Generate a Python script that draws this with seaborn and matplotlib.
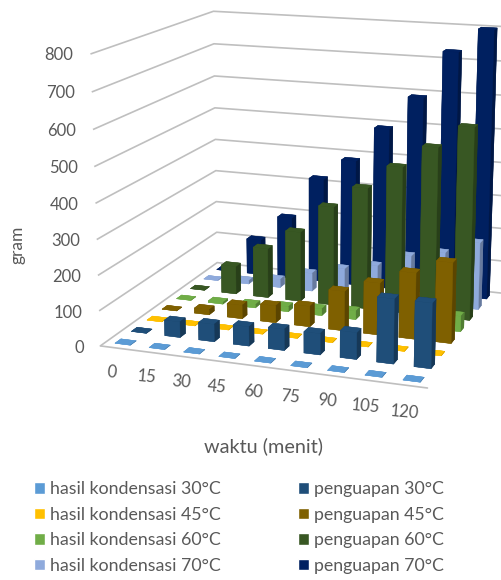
import numpy as np, matplotlib
matplotlib.use("Agg")
import matplotlib.pyplot as plt
import seaborn as sns
from matplotlib.patches import Patch
from mpl_toolkits.mplot3d import proj3d
import matplotlib.colors as mc

sns.set_theme(style="white")
plt.rcParams['font.family'] = ['Lato', 'DejaVu Sans']

waktu = [0, 15, 30, 45, 60, 75, 90, 105, 120]
gram_ticks = [0, 100, 200, 300, 400, 500, 600, 700, 800]
hasil30 = [0, 0, 0, 0, 0, 0, 0, 0, 0]
penguapan30 = [0, 45, 50, 55, 60, 60, 75, 180, 180]
hasil45 = [0, 0, 0, 0, 0, 0, 0, 0, 0]
penguapan45 = [0, 15, 40, 50, 60, 115, 150, 190, 230]
hasil60 = [0, 5, 10, 15, 20, 25, 30, 35, 45]
penguapan60 = [0, 85, 150, 210, 295, 360, 430, 495, 560]
hasil70 = [0, 10, 25, 55, 80, 100, 140, 160, 200]
penguapan70 = [0, 110, 190, 320, 385, 490, 590, 730, 800]
series = [
    ("hasil kondensasi 30°C", hasil30, "#5B9BD5"),
    ("penguapan 30°C", penguapan30, "#1F4E79"),
    ("hasil kondensasi 45°C", hasil45, "#FFC000"),
    ("penguapan 45°C", penguapan45, "#7F6000"),
    ("hasil kondensasi 60°C", hasil60, "#70AD47"),
    ("penguapan 60°C", penguapan60, "#385723"),
    ("hasil kondensasi 70°C", hasil70, "#8FAADC"),
    ("penguapan 70°C", penguapan70, "#002060"),
]
W, H = 501, 580
fig = plt.figure(figsize=(W/100, H/100), dpi=100)
ax = fig.add_axes([0, 0, 1, 1], projection="3d")
ax.set_xlim(0, 9); ax.set_ylim(0, 8); ax.set_zlim(0, 800)

# fit the camera to the corners of the reference's 3D box
corners3 = np.array([[0,0,0],[9,0,0],[0,8,0],[0,8,800],[0,0,800],[9,8,0],[9,8,800]],float)
corners2 = np.array([[100.7,345],[428,389],[216.7,262.7],[214,11],[90,54],[505,293],[505,27]],float)
def fit(p):
    e, a, f, bx, by = p
    ax.view_init(elev=e, azim=a)
    ax.set_proj_type('persp', focal_length=f)
    ax.set_box_aspect((bx, by, 1))
    X, Y, _ = proj3d.proj_transform(corners3[:,0], corners3[:,1], corners3[:,2], ax.get_proj())
    X = np.asarray(X); Y = np.asarray(Y)
    mx, my, px, py = X.mean(), Y.mean(), corners2[:,0].mean(), corners2[:,1].mean()
    s = (((X-mx)*(corners2[:,0]-px)).sum() - ((Y-my)*(corners2[:,1]-py)).sum())/(((X-mx)**2).sum()+((Y-my)**2).sum())
    tx = px - s*mx; ty = py + s*my
    return ((s*X+tx-corners2[:,0])**2+(ty-s*Y-corners2[:,1])**2).sum(), s, tx, ty
rng = np.random.default_rng(1)
best = np.array([14.132, -71.025, 0.538, 1.129, 1.016]); be = fit(best)
step = np.array([1.5, 2.5, .08, .08, .08])
N = 4000
for i in range(N):
    c = best + rng.normal(size=5)*step*(0.3+0.7*(1-i/N))**3
    if c[2] <= 0.05 or c[3] <= 0.1 or c[4] <= 0.1:
        continue
    r = fit(c)
    if r[0] < be[0]:
        best, be = c, r
_, s, tx, ty = fit(best)
ext = ax.viewLim.extents
L = s*(ext[2]-ext[0])
cx = tx + s*(ext[0]+ext[2])/2
cy = ty - s*(ext[1]+ext[3])/2
ax.set_position([(cx-L/2)/W, (H-cy-L/2)/H, L/W, L/H])

ax.set_facecolor("none"); fig.patch.set_facecolor("white")
ax.computed_zorder = False
bw, bd = 0.45, 0.36
for r,(name,vals,col) in enumerate(series):
    base = np.array(mc.to_rgb(col))
    for c,v in enumerate(vals):
        cols = [tuple(base), tuple(base), tuple(base), tuple(base*0.8), tuple(base*0.8), tuple(base*0.72)]
        ax.bar3d(c+0.5-bw/2, r+0.5-bd/2, 0, bw, bd, v, color=cols, edgecolor=cols, linewidth=0.3,
                 shade=False, zorder=10+(8-r)*100+c)
grey = "#595959"
ax.set_xticks(np.arange(9)+0.5); ax.set_xticklabels(waktu)
ax.set_yticks([])
ax.set_zticks(gram_ticks)
ax.set_zticklabels(gram_ticks, va='center', ha='right')
ax.zaxis.set_ticks_position('lower')
ax.tick_params(axis='x', labelsize=12, colors=grey, pad=0, labelrotation=-5)
ax.tick_params(axis='z', labelsize=12, colors=grey, pad=-1)
for a in (ax.xaxis, ax.yaxis, ax.zaxis):
    a.set_pane_color((1,1,1,0))
    a.pane.set_edgecolor((1,1,1,0))
    a.line.set_color((1,1,1,0))
    a._axinfo['tick']['inward_factor']=0; a._axinfo['tick']['outward_factor']=0
    a._axinfo['grid']['color']="#BFBFBF"; a._axinfo['grid']['linewidth']=1.2
ax.xaxis._axinfo['grid']['linewidth']=0
ax.yaxis._axinfo['grid']['linewidth']=0
ax.xaxis.line.set_color("#BFBFBF"); ax.xaxis.line.set_linewidth(1.2)
ax.grid(True)
fig.text(264/W, 1-446/H, "waktu (menit)", ha="center", va="center", fontsize=14.3, color=grey)
fig.text(17/W, 1-245/H, "gram", ha="center", va="center", rotation=90, fontsize=12.5, color=grey)
handles=[Patch(facecolor=c, label=n) for n,_,c in series[0::2]]+[Patch(facecolor=c, label=n) for n,_,c in series[1::2]]
fig.legend(handles=handles, ncol=2, frameon=False, fontsize=12.8, labelcolor=grey, loc="upper left", bbox_to_anchor=(34/W, 1-481/H),
           handlelength=0.62, handleheight=0.62, handletextpad=0.3, columnspacing=4.3, labelspacing=0.54, borderpad=0, borderaxespad=0)
fig.savefig("out.png", dpi=100)
